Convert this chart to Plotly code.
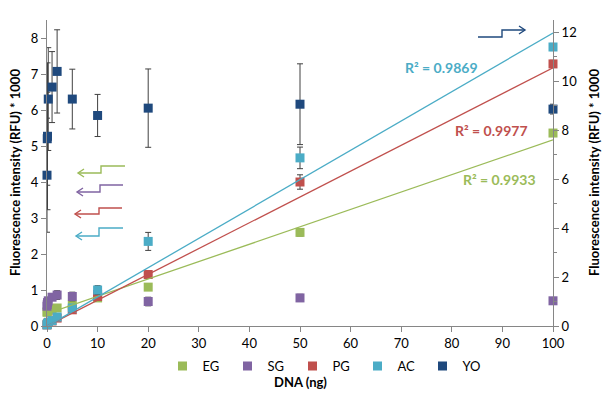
import plotly.graph_objects as go

# ---------------- data ----------------
dna = [0, 0.05, 0.1, 0.25, 1, 2, 5, 10, 20, 50, 100]

eg = [0.38, 0.40, 0.42, 0.44, 0.47, 0.50, 0.58, 0.78, 1.08, 2.60, 5.36]
sg = [0.55, 0.60, 0.65, 0.70, 0.80, 0.86, 0.82, 0.88, 0.68, 0.78, 0.70]
pg = [0.03, 0.05, 0.07, 0.10, 0.14, 0.22, 0.45, 0.82, 1.43, 4.00, 7.28]
ac = [0.03, 0.05, 0.07, 0.10, 0.15, 0.25, 0.50, 1.00, 2.35, 4.67, 7.75]
yo = [6.16, 7.65, 7.75, 9.27, 9.76, 10.40, 9.27, 8.60, 8.90, 9.06, 8.86]

eg_err = [0, 0, 0, 0, 0, 0.05, 0.05, 0.08, 0.05, 0.10, 0.05]
sg_err = [0, 0, 0, 0, 0.08, 0.12, 0.12, 0.10, 0.12, 0.10, 0.05]
pg_err = [0, 0, 0, 0, 0, 0.05, 0.08, 0.10, 0.10, 0.20, 0.10]
ac_err = [0, 0, 0, 0, 0, 0.05, 0.08, 0.12, 0.25, 0.30, 0.10]
yo_err = [2.33, 1.90, 3.00, 2.10, 1.45, 1.70, 1.22, 0.86, 1.60, 1.65, 0.20]

# linear trendlines (EG, PG, AC)
trend_names = ["EG", "PG", "AC"]
trend_intercept = [0.34, 0.0, -0.01]
trend_slope = [0.0483, 0.0717, 0.0815]
r2_labels = ["R² = 0.9933", "R² = 0.9977", "R² = 0.9869"]

x_ticks = [0, 10, 20, 30, 40, 50, 60, 70, 80, 90, 100]

colors = {"EG": "#9BBB59", "SG": "#8064A2", "PG": "#C0504D",
          "AC": "#4BACC6", "YO": "#1F497D"}

FONT = "Lato, 'Open Sans', sans-serif"

# ---------------- layout geometry ----------------
W, H = 605, 395
ML, MR, MT, MB = 47, 52, 20, 69
PW, PH = W - ML - MR, H - MT - MB


def px(x, y):
    return (x - ML) / PW, (H - MB - y) / PH


fig = go.Figure()

series = [("EG", eg, eg_err), ("SG", sg, sg_err), ("PG", pg, pg_err), ("AC", ac, ac_err)]
for name, vals, err in series:
    fig.add_trace(go.Scatter(
        x=dna, y=vals, mode="markers", name=name,
        marker=dict(symbol="square", size=9, color=colors[name]),
        error_y=dict(type="data", array=err, visible=True, color="#404040",
                     thickness=1, width=3),
        cliponaxis=False, yaxis="y"))

fig.add_trace(go.Scatter(
    x=dna, y=yo, mode="markers", name="YO",
    marker=dict(symbol="square", size=9, color=colors["YO"]),
    error_y=dict(type="data", array=yo_err, visible=True, color="#404040",
                 thickness=1, width=3),
    cliponaxis=False, yaxis="y2"))

xmin, xmax = min(dna), max(dna)
for name, b, m in zip(trend_names, trend_intercept, trend_slope):
    fig.add_trace(go.Scatter(
        x=[xmin, xmax], y=[b + m * xmin, b + m * xmax], mode="lines",
        line=dict(color=colors[name], width=1.3), showlegend=False,
        hoverinfo="skip", yaxis="y"))

# R^2 annotations
r2_pos = {"EG": (499, 180), "PG": (491, 130), "AC": (441, 67)}
annotations = []
for name, lab in zip(trend_names, r2_labels):
    xp, yp = px(*r2_pos[name])
    annotations.append(dict(x=xp, y=yp, xref="paper", yref="paper", text="<b>%s</b>" % lab,
                            showarrow=False, font=dict(family=FONT, size=14, color=colors[name]),
                            xanchor="center", yanchor="middle"))

# axis titles as annotations (exact placement)
ytitle = "<b>Fluorescence intensity (RFU) * 1000</b>"
for xpix in (15, 594):
    xp, yp = px(xpix, 173)
    annotations.append(dict(x=xp, y=yp, xref="paper", yref="paper", text=ytitle,
                            textangle=-90, showarrow=False,
                            font=dict(family=FONT, size=13, color="#000000"),
                            xanchor="center", yanchor="middle"))
xp, yp = px(300, 382)
annotations.append(dict(x=xp, y=yp, xref="paper", yref="paper", text="<b>DNA (ng)</b>",
                        showarrow=False, font=dict(family=FONT, size=13, color="#000000"),
                        xanchor="center", yanchor="middle"))

# elbow arrows (pixel positions -> paper)
arrows = [
    ("EG", [(125, 166), (101, 166), (101, 173), (78, 173)], "left"),
    ("SG", [(123, 185), (100, 185), (100, 192), (77, 192)], "left"),
    ("PG", [(122, 208), (99, 208), (99, 214), (75, 214)], "left"),
    ("AC", [(123, 228), (99, 228), (99, 236), (76, 236)], "left"),
    ("YO", [(478, 37), (502, 37), (502, 30), (525, 30)], "right"),
]
shapes = []
for name, pts, d in arrows:
    path = "M " + " L ".join("%f,%f" % px(x, y) for x, y in pts)
    tx, ty = pts[-1]
    s = 6 if d == "left" else -6
    head = "M %f,%f L %f,%f L %f,%f" % (*px(tx + s, ty - 4), *px(tx, ty), *px(tx + s, ty + 4))
    for p in (path, head):
        shapes.append(dict(type="path", path=p, xref="paper", yref="paper",
                           line=dict(color=colors[name], width=1.4)))

axis_common = dict(showgrid=False, zeroline=False, showline=True, linecolor="#868686",
                   linewidth=1, ticks="outside", tickcolor="#868686", ticklen=5,
                   automargin=False,
                   tickfont=dict(family=FONT, size=13, color="#000000"))

fig.update_layout(
    width=W, height=H,
    margin=dict(l=ML, r=MR, t=MT, b=MB, pad=0, autoexpand=False),
    paper_bgcolor="white", plot_bgcolor="white",
    font=dict(family=FONT, size=13, color="#000000"),
    xaxis=dict(range=[0, 100], tickvals=x_ticks, **axis_common),
    yaxis=dict(range=[0, 8.5], dtick=1, tick0=0, **axis_common),
    yaxis2=dict(range=[0, 12.5], dtick=2, tick0=0, overlaying="y", side="right",
                minor=dict(dtick=1, ticks="outside", ticklen=3, tickcolor="#868686"),
                **axis_common),
    legend=dict(orientation="h", x=px(325, 0)[0], y=px(0, 366)[1], xanchor="center",
                yanchor="middle", font=dict(family=FONT, size=13), itemwidth=30,
                entrywidth=20, entrywidthmode="pixels",
                tracegroupgap=0, bgcolor="rgba(0,0,0,0)"),
    annotations=annotations,
    shapes=shapes,
)

fig.write_html("out.html", config={"displayModeBar": False},
               post_script="document.body.style.margin='0px';document.body.style.overflow='hidden';")
